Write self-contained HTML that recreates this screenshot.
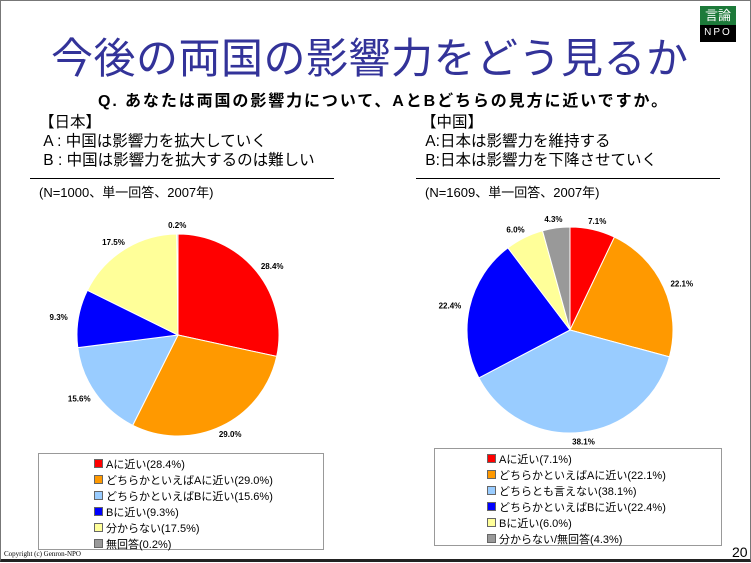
<!DOCTYPE html>
<html><head><meta charset="utf-8">
<style>
body{margin:0;width:751px;height:562px;overflow:hidden;background:#fff;font-family:"Liberation Sans","Noto Sans CJK JP",sans-serif;}
#page{position:absolute;left:0;top:0;width:749px;height:558px;border:1px solid #777;border-bottom:3px solid #222;background:#fff;}
.t{position:absolute;white-space:nowrap;color:#000;}
.box{position:absolute;border:1px solid #999;background:#fff;}
.li{position:absolute;font-size:11px;white-space:nowrap;}
.sw{display:inline-block;width:7px;height:7px;margin-right:3px;border:1px solid #666;vertical-align:0px;}
</style></head><body>
<div id="page">
<div style="position:absolute;left:699px;top:5px;width:36px;height:36px;background:#000;">
 <div style="height:19px;background:#1d7a3a;color:#fff;font-size:13px;line-height:19px;text-align:center;">言論</div>
 <div style="color:#fff;font-size:10px;text-align:center;letter-spacing:2px;line-height:16px;">NPO</div>
</div>
<div class="t" style="left:50px;top:24px;font-size:42px;color:#333399;letter-spacing:0.5px;">今後の両国の影響力をどう見るか</div>
<div class="t" style="left:97px;top:86px;font-size:16px;font-weight:bold;letter-spacing:1.9px;">Q. あなたは両国の影響力について、AとBどちらの見方に近いですか。</div>
<div class="t" style="left:38px;top:112px;font-size:15.5px;line-height:19px;">【日本】<br>&nbsp;A : 中国は影響力を拡大していく<br>&nbsp;B : 中国は影響力を拡大するのは難しい</div>
<div class="t" style="left:420px;top:112px;font-size:15.5px;line-height:19px;">【中国】<br>&nbsp;A:日本は影響力を維持する<br>&nbsp;B:日本は影響力を下降させていく</div>
<div style="position:absolute;left:29px;top:177px;width:304px;height:1px;background:#000;"></div>
<div style="position:absolute;left:415px;top:177px;width:304px;height:1px;background:#000;"></div>
<div class="t" style="left:38px;top:181px;font-size:13px;">(N=1000、単一回答、2007年)</div>
<div class="t" style="left:424px;top:181px;font-size:13px;">(N=1609、単一回答、2007年)</div>
<svg id="charts" width="751" height="562" style="position:absolute;left:0;top:0;"></svg>
<div class="box" id="lbox" style="left:37px;top:452px;width:284px;height:95px;"></div>
<div class="box" id="rbox" style="left:433px;top:447px;width:286px;height:96px;"></div>
<div class="t" style="left:3px;top:549px;font-size:7px;font-family:'Liberation Serif',serif;">Copyright (c) Genron-NPO</div>
<div class="t" style="left:731px;top:543px;font-size:14px;">20</div>
</div>
<script>
const colors=["#ff0000","#ff9900","#99ccff","#0000ff","#ffff99","#999999"];
const leftValues=[28.4,29.0,15.6,9.3,17.5,0.2];
const leftLabels=["Aに近い(28.4%)","どちらかといえばAに近い(29.0%)","どちらかといえばBに近い(15.6%)","Bに近い(9.3%)","分からない(17.5%)","無回答(0.2%)"];
const rightValues=[7.1,22.1,38.1,22.4,6.0,4.3];
const rightLabels=["Aに近い(7.1%)","どちらかといえばAに近い(22.1%)","どちらとも言えない(38.1%)","どちらかといえばBに近い(22.4%)","Bに近い(6.0%)","分からない/無回答(4.3%)"];
const NS="http://www.w3.org/2000/svg";
const svg=document.getElementById('charts');
function pie(vals,cx,cy,r,prefix){
 const tot=vals.reduce((a,b)=>a+b,0);let a0=0;
 vals.forEach((v,i)=>{
  const a1=a0+v/tot*2*Math.PI;
  const x0=cx+r*Math.sin(a0),y0=cy-r*Math.cos(a0),x1=cx+r*Math.sin(a1),y1=cy-r*Math.cos(a1);
  const p=document.createElementNS(NS,'path');
  p.setAttribute('d',`M${cx},${cy}L${x0},${y0}A${r},${r} 0 ${a1-a0>Math.PI?1:0} 1 ${x1},${y1}Z`);
  p.setAttribute('fill',colors[i]);p.setAttribute('stroke','#fff');p.setAttribute('stroke-width','1');
  
  
  svg.appendChild(p);
  const am=(a0+a1)/2;
  const t=document.createElementNS(NS,'text');
  t.setAttribute('x',cx+(r+20)*Math.sin(am));t.setAttribute('y',cy-(r+9)*Math.cos(am)+3);
  t.setAttribute('text-anchor','middle');t.setAttribute('font-size','8');t.setAttribute('font-weight','bold');
  t.setAttribute('font-family','Liberation Sans, sans-serif');
  t.textContent=v.toFixed(1)+'%';
  
  
  svg.appendChild(t);
  a0=a1;
 });
}
pie(leftValues,177,334,101,'japan');
pie(rightValues,569,329,103,'china');
function legend(box,labels,x0,y0,step,prefix){
 const b=document.getElementById(box);
 labels.forEach((l,i)=>{
  const d=document.createElement('div');d.className='li';
  d.style.left=x0+'px';d.style.top=(y0+i*step)+'px';
  d.innerHTML=`<span class="sw" style="background:${colors[i]}"></span>`+l;
  
  
  b.appendChild(d);
 });
}
legend('lbox',leftLabels,55,2,16,'japan');
legend('rbox',rightLabels,52,2,16,'china');
</script>
</body></html>
